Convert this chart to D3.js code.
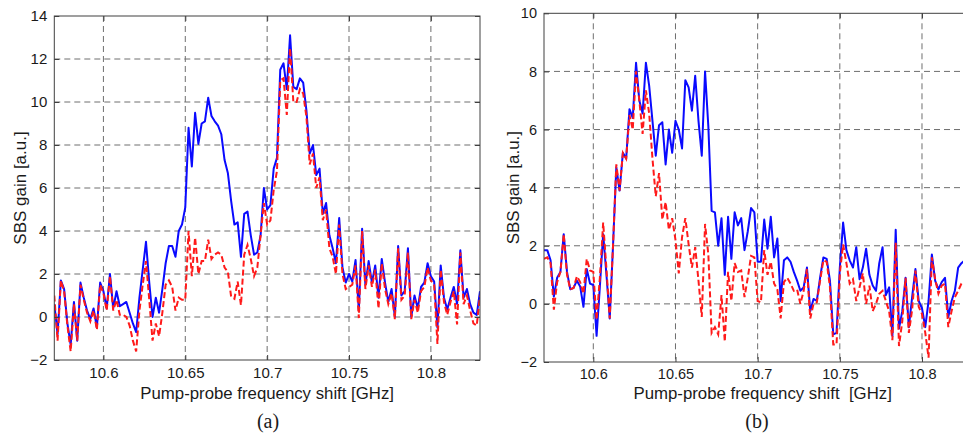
<!DOCTYPE html>
<html>
<head>
<meta charset="utf-8">
<script src="https://cdn.jsdelivr.net/npm/d3@7"></script>
<style>
  html, body { margin: 0; padding: 0; background: #fff; }
  svg { display: block; }
  text { font-family: "Liberation Sans", Arial, Helvetica, sans-serif; fill: #1a1a1a; }
  .caption { font-family: "Liberation Serif", "Times New Roman", serif; }
</style>
</head>
<body>
<svg id="chart" width="963" height="434"></svg>
<script>
// Frequency grid shared by both panels (GHz)
const freq = d3.range(131).map(i => +(10.57 + 0.002 * i).toFixed(3));

const xTicks = [10.6, 10.65, 10.7, 10.75, 10.8];
const xTickLabels = ["10.6", "10.65", "10.7", "10.75", "10.8"];
const yTicksA = [-2, 0, 2, 4, 6, 8, 10, 12, 14];
const yTicksB = [-2, 0, 2, 4, 6, 8, 10];

// Panel (a): solid and dashed gain spectra
const gainA1 = [
  0.6, -0.8, 1.7, 1.3, -0.3, -1.3, 0.7, -1.1, 1.6, 0.9,
  0.3, -0.1, 0.4, -0.5, 1.6, 1.2, 0.4, 2.0, 0.4, 1.2,
  0.5, 0.6, 0.7, 0.2, -0.3, -0.7, 0.9, 2.2, 3.5, 1.6,
  0.0, 0.9, 0.2, 1.3, 2.5, 3.3, 3.3, 2.8, 4.0, 4.3,
  5.1, 8.8, 7.0, 9.5, 8.05, 9.0, 9.1, 10.2, 9.35, 9.1,
  8.9, 8.5, 7.3, 6.7, 5.4, 4.3, 4.4, 2.8, 4.8, 4.9,
  3.8, 2.9, 3.0, 3.8, 6.0, 5.0, 5.2, 6.9, 7.4, 11.5,
  11.8, 10.6, 13.1, 10.7, 10.6, 11.1, 10.9, 9.6, 7.6, 8.0,
  6.6, 6.9, 4.8, 5.3, 3.8, 3.2, 2.5, 4.6, 2.3, 1.6,
  2.0, 1.65, 2.65, 0.3, 4.1, 1.5, 2.6, 1.6, 2.4, 0.9,
  2.7, 1.6, 0.7, 1.3, 0.0, 3.3, 1.0, 1.2, 3.2, 0.0,
  1.0, 0.4, 1.4, 1.6, 2.5, 1.9, 1.65, -0.5, 2.4, 0.9,
  0.35, 0.9, 1.4, 0.6, 3.1, 0.9, 1.3, 0.6, 0.2, 0.1,
  1.2
];
const gainA2 = [
  1.0, -1.1, 1.7, 1.2, -0.4, -1.6, 0.6, -1.1, 1.5, 0.8,
  0.2, -0.2, 0.3, -0.6, 1.5, 1.1, 0.3, 1.9, 0.3, 0.8,
  0.1, 0.1, 0.0, -0.4, -1.1, -1.6, 0.3, 1.5, 2.6, 0.8,
  -1.1, -0.3, -0.9, 0.2, 1.5, 1.7, 1.4, 0.3, 0.9, 0.8,
  0.8, 4.0, 1.9, 3.7, 2.0, 2.6, 2.6, 3.6, 2.7, 2.9,
  3.0, 2.9, 2.3, 2.1, 0.95, 0.85, 1.65, 0.55, 2.9, 3.35,
  2.7, 1.9, 2.3, 3.8, 5.3, 4.3, 4.5, 5.9, 6.8, 11.0,
  11.1, 9.4, 12.5, 10.0, 10.0, 10.6, 10.4, 9.3, 7.1, 7.6,
  6.0, 6.5, 4.5, 5.0, 3.2, 2.8, 2.0, 4.3, 2.0, 1.3,
  1.4, 1.5, 2.4, -0.05, 4.0, 1.3, 2.4, 1.4, 2.2, 0.4,
  2.5, 1.3, 0.6, 1.1, -0.1, 3.2, 0.8, 1.0, 3.0, -0.1,
  0.8, 0.2, 1.2, 1.4, 2.3, 1.7, 1.5, -1.25, 2.2, 0.7,
  0.1, 0.7, 1.2, -0.35, 3.0, 0.6, 1.0, 0.3, -0.3, -0.4,
  1.0
];

// Panel (b): solid and dashed gain spectra
const gainB1 = [
  1.85, 1.85, 1.5, 0.25, 0.9, 1.1, 2.4, 1.1, 0.5, 0.55,
  0.8, 0.6, -0.1, 1.2, 0.7, 0.65, -1.1, 0.6, 2.4, 1.0,
  -0.5, 2.0, 4.7, 3.9, 5.2, 5.0, 6.7, 6.4, 8.3, 7.0,
  6.55, 8.3, 7.5, 6.3, 5.1, 6.15, 6.25, 4.8, 6.0, 5.2,
  6.3, 6.0, 5.35, 7.7, 7.45, 6.65, 7.85, 6.3, 5.1, 8.0,
  6.1, 3.2, 3.15, 2.0, 2.95, 1.0, 3.0, 1.55, 3.15, 2.7,
  2.95, 1.85, 2.5, 3.3, 3.15, 1.45, 1.45, 2.9, 1.9, 3.0,
  1.6, 2.25, 0.1, 1.5, 1.6, 1.45, 1.1, 0.8, 0.45, 0.57,
  1.25, -0.25, 0.17, 0.1, 0.9, 1.6, 1.55, 0.8, -1.05, -1.0,
  1.25, 2.8, 1.85, 1.5, 1.25, 1.95, 0.85, 1.25, 1.9, 1.0,
  0.63, 0.45, 1.4, 1.95, 0.3, 0.57, -1.1, 2.55, -0.85, -0.25,
  0.9, -0.8, 0.23, 1.2, 0.1, -0.15, -0.8, 0.1, 1.7, 0.8,
  0.5, 0.75, 0.9, -0.45, 0.1, 0.45, 1.25, 1.4, 1.5
];
const gainB2 = [
  1.55, 1.6, 1.4, -0.2, 0.75, 1.1, 2.4, 1.0, 0.5, 0.55,
  0.95, 0.75, 0.35, 1.55, 1.15, 1.1, -0.55, 0.9, 2.8, 1.2,
  -0.5, 2.0, 4.8, 3.9, 5.2, 5.0, 6.5, 6.0, 8.0, 7.0,
  5.85, 7.35, 6.55, 5.0, 3.7, 4.5, 2.9, 3.5, 2.55, 2.95,
  2.2, 1.05, 2.3, 2.95, 2.05, 1.25, 1.95, 0.8, -0.45, 2.75,
  1.7, -1.0, -0.8, -1.05, 0.3, -1.3, 1.1, 0.1, 1.4, 1.1,
  1.15, 0.23, 0.9, 1.65, 1.6, 0.1, 0.05, 1.85, 1.0, 1.45,
  0.7, 0.5, -0.5, 0.75, 0.9, 0.7, 0.45, 0.5, 0.0, 0.45,
  1.2, -0.5, 0.0, 0.05, 0.8, 1.5, 1.45, 0.57, -1.4, -1.4,
  1.05, 2.05, 1.4, 0.7, 0.85, 0.1, 0.57, 1.05, 0.0, 0.63,
  -0.25, 0.0, 0.35, 0.45, 0.1, -0.25, -1.25, 2.1, -1.45, -0.6,
  0.9, -1.0, -0.2, 1.15, -0.1, -0.35, -1.0, -1.85, 1.6, 0.85,
  0.35, 0.63, 0.7, -0.8, -0.25, 0.23, 0.45, 0.7, 0.8
];

const svg = d3.select("#chart");

const panels = [
  { id: "a", x0: 54.3, x1: 480, yTop: 16, yBot: 360, yDom: [-2, 14], yTicks: yTicksA,
    solid: gainA1, dashed: gainA2, yTitleX: 20, xTitleDx: 0, xTitle: "Pump-probe frequency shift [GHz]",
    tickFont: 15, caption: "(a)", captionX: 268 },
  { id: "b", x0: 544, x1: 971.3, yTop: 13.3, yBot: 362, yDom: [-2, 10], yTicks: yTicksB,
    solid: gainB1, dashed: gainB2, yTitleX: 513, xTitleDx: 5, xTitle: "Pump-probe frequency shift\u00a0 [GHz]",
    tickFont: 14.5, caption: "(b)", captionX: 757 }
];

panels.forEach(p => {
  const x = d3.scaleLinear().domain([10.57, 10.83]).range([p.x0, p.x1]);
  const y = d3.scaleLinear().domain(p.yDom).range([p.yBot, p.yTop]);
  const g = svg.append("g");

  const clipId = "clip-" + p.id;
  svg.append("defs").append("clipPath").attr("id", clipId)
    .append("rect")
    .attr("x", p.x0).attr("y", p.yTop)
    .attr("width", p.x1 - p.x0).attr("height", p.yBot - p.yTop);

  // dashed grid
  g.append("g").selectAll("line").data(xTicks).join("line")
    .attr("x1", d => x(d)).attr("x2", d => x(d))
    .attr("y1", p.yTop).attr("y2", p.yBot)
    .attr("stroke", "#6e6e6e").attr("stroke-width", 1).attr("stroke-dasharray", "6,4");
  g.append("g").selectAll("line").data(p.yTicks.filter(v => v > p.yDom[0] && v < p.yDom[1])).join("line")
    .attr("x1", p.x0).attr("x2", p.x1)
    .attr("y1", d => y(d)).attr("y2", d => y(d))
    .attr("stroke", "#6e6e6e").attr("stroke-width", 1).attr("stroke-dasharray", "6,4");

  // data lines
  const line = (vals) => d3.line()
    .x((d, i) => x(freq[i]))
    .y(d => y(d))(vals);

  const lines = g.append("g").attr("clip-path", `url(#${clipId})`);
  lines.append("path").attr("d", line(p.solid))
    .attr("fill", "none").attr("stroke", "#0a0aff").attr("stroke-width", 2)
    .attr("stroke-linejoin", "round");
  lines.append("path").attr("d", line(p.dashed))
    .attr("fill", "none").attr("stroke", "#ff1a1a").attr("stroke-width", 2)
    .attr("stroke-dasharray", "6,3");

  // frame
  g.append("rect")
    .attr("x", p.x0).attr("y", p.yTop)
    .attr("width", p.x1 - p.x0).attr("height", p.yBot - p.yTop)
    .attr("fill", "none").attr("stroke", "#404040").attr("stroke-width", 1);

  // axes with inward ticks
  const xAxis = d3.axisBottom(x).tickValues(xTicks)
    .tickFormat((d, i) => xTickLabels[i]).tickSizeInner(-5).tickSizeOuter(0).tickPadding(7);
  const gx = g.append("g").attr("transform", `translate(0,${p.yBot})`).call(xAxis);
  const xAxisTop = d3.axisTop(x).tickValues(xTicks).tickFormat("").tickSizeInner(-5).tickSizeOuter(0);
  const gxt = g.append("g").attr("transform", `translate(0,${p.yTop})`).call(xAxisTop);

  const yAxis = d3.axisLeft(y).tickValues(p.yTicks).tickFormat(d3.format("d"))
    .tickSizeInner(-5).tickSizeOuter(0).tickPadding(7);
  const gy = g.append("g").attr("transform", `translate(${p.x0},0)`).call(yAxis);
  const yAxisR = d3.axisRight(y).tickValues(p.yTicks).tickFormat("").tickSizeInner(-5).tickSizeOuter(0);
  const gyr = g.append("g").attr("transform", `translate(${p.x1},0)`).call(yAxisR);

  [gx, gxt, gy, gyr].forEach(a => {
    a.select(".domain").remove();
    a.selectAll(".tick line").attr("stroke", "#404040");
    a.selectAll("text").attr("font-size", p.tickFont).attr("fill", "#1a1a1a")
      .attr("font-family", "'Liberation Sans', Arial, sans-serif");
  });

  // axis titles
  g.append("text")
    .attr("x", (p.x0 + p.x1) / 2 + p.xTitleDx).attr("y", 399)
    .attr("text-anchor", "middle").attr("font-size", 16.8)
    .text(p.xTitle);
  g.append("text")
    .attr("transform", `translate(${p.yTitleX},${(p.yTop + p.yBot) / 2}) rotate(-90)`)
    .attr("text-anchor", "middle").attr("dominant-baseline", "central")
    .attr("font-size", 17)
    .text("SBS gain [a.u.]");

  // panel caption
  g.append("text").attr("class", "caption")
    .attr("x", p.captionX).attr("y", 428)
    .attr("text-anchor", "middle").attr("font-size", 20)
    .text(p.caption);
});
</script>
</body>
</html>
